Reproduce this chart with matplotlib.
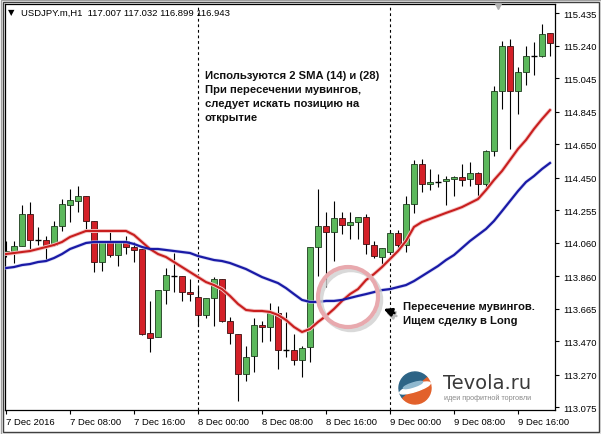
import numpy as np
import matplotlib.pyplot as plt
from matplotlib.patches import Circle, Wedge, Ellipse, Rectangle
from matplotlib.transforms import IdentityTransform

plt.rcParams['font.family'] = ['Liberation Sans', 'DejaVu Sans']

# USDJPY H1, 7-9 Dec 2016
opens = [113.992, 114.010, 114.040, 114.232, 114.076, 114.076, 114.046, 114.160, 114.285, 114.309,
         114.339, 114.190, 113.944, 114.064, 113.986, 114.070, 114.034, 114.022, 113.519, 113.495,
         113.776, 113.860, 113.860, 113.764, 113.735, 113.627, 113.729, 113.842, 113.591, 113.513,
         113.273, 113.381, 113.567, 113.555, 113.639, 113.417, 113.417, 113.357, 113.435, 114.034,
         114.160, 114.124, 114.208, 114.166, 114.184, 114.214, 114.046, 113.974, 114.004, 114.118,
         114.046, 114.291, 114.531, 114.411, 114.423, 114.429, 114.441, 114.453, 114.441, 114.477,
         114.411, 114.609, 114.968, 115.238, 114.968, 115.082, 115.178, 115.178, 115.315]
closes = [114.010, 114.040, 114.232, 114.076, 114.076, 114.040, 114.160, 114.291, 114.315, 114.339,
          114.190, 113.944, 114.064, 113.986, 114.064, 114.034, 114.016, 113.513, 113.489, 113.776,
          113.866, 113.860, 113.764, 113.752, 113.627, 113.729, 113.842, 113.591, 113.519, 113.273,
          113.375, 113.567, 113.555, 113.639, 113.417, 113.417, 113.357, 113.429, 114.034, 114.160,
          114.124, 114.208, 114.166, 114.184, 114.214, 114.052, 113.980, 114.028, 114.118, 114.046,
          114.291, 114.531, 114.411, 114.423, 114.423, 114.441, 114.453, 114.435, 114.477, 114.411,
          114.609, 114.968, 115.238, 114.968, 115.082, 115.178, 115.178, 115.309, 115.256]
highs = [114.070, 114.070, 114.285, 114.303, 114.154, 114.100, 114.190, 114.321, 114.381, 114.399,
         114.339, 114.190, 114.064, 114.136, 114.064, 114.100, 114.064, 114.022, 113.711, 113.776,
         113.908, 113.998, 113.860, 113.842, 113.794, 113.729, 113.854, 113.842, 113.615, 113.513,
         113.441, 113.609, 113.591, 113.699, 113.681, 113.645, 113.513, 113.441, 114.034, 114.381,
         114.244, 114.309, 114.244, 114.244, 114.214, 114.232, 114.070, 114.028, 114.130, 114.136,
         114.339, 114.555, 114.561, 114.501, 114.471, 114.459, 114.459, 114.531, 114.543, 114.483,
         114.615, 114.998, 115.268, 115.280, 115.112, 115.238, 115.262, 115.369, 115.315]
lows = [113.974, 113.938, 114.040, 114.010, 114.046, 113.950, 114.040, 114.130, 114.184, 114.244,
        114.124, 113.884, 113.890, 113.974, 113.920, 113.992, 113.944, 113.507, 113.405, 113.495,
        113.693, 113.764, 113.711, 113.711, 113.561, 113.609, 113.561, 113.585, 113.453, 113.112,
        113.232, 113.285, 113.465, 113.471, 113.303, 113.375, 113.327, 113.255, 113.345, 113.860,
        113.794, 113.950, 114.112, 114.082, 114.082, 113.992, 113.968, 113.920, 114.004, 114.022,
        114.004, 114.238, 114.363, 114.375, 114.393, 114.285, 114.339, 114.399, 114.399, 114.327,
        114.393, 114.579, 114.860, 114.621, 114.830, 115.004, 115.064, 115.172, 115.178]

sma14 = [113.992, 113.998, 114.004, 114.010, 114.022, 114.034, 114.046, 114.064, 114.094, 114.112,
         114.130, 114.130, 114.130, 114.130, 114.130, 114.130, 114.106, 114.064, 114.022, 113.992,
         113.974, 113.944, 113.914, 113.884, 113.854, 113.824, 113.806, 113.782, 113.741, 113.693,
         113.657, 113.651, 113.651, 113.645, 113.627, 113.597, 113.555, 113.525, 113.543, 113.585,
         113.621, 113.663, 113.711, 113.752, 113.782, 113.836, 113.872, 113.914, 113.962, 114.010,
         114.070, 114.154, 114.184, 114.202, 114.220, 114.238, 114.255, 114.273, 114.297, 114.321,
         114.375, 114.435, 114.489, 114.555, 114.621, 114.675, 114.741, 114.800, 114.854]
sma28 = [113.908, 113.914, 113.926, 113.932, 113.944, 113.950, 113.968, 113.992, 114.022, 114.040,
         114.058, 114.064, 114.064, 114.064, 114.064, 114.064, 114.052, 114.034, 114.022, 114.022,
         114.016, 114.010, 114.004, 113.998, 113.980, 113.968, 113.956, 113.950, 113.938, 113.920,
         113.902, 113.878, 113.854, 113.836, 113.818, 113.788, 113.752, 113.717, 113.705, 113.705,
         113.711, 113.711, 113.717, 113.729, 113.741, 113.752, 113.764, 113.776, 113.782, 113.794,
         113.806, 113.830, 113.860, 113.890, 113.920, 113.956, 113.986, 114.028, 114.070, 114.106,
         114.142, 114.190, 114.249, 114.309, 114.369, 114.423, 114.459, 114.501, 114.537]

xtick_pos = [0, 8, 16, 24, 32, 40, 48, 56, 64]
xtick_labels = ['7 Dec 2016', '7 Dec 08:00', '7 Dec 16:00', '8 Dec 00:00', '8 Dec 08:00',
                '8 Dec 16:00', '9 Dec 00:00', '9 Dec 08:00', '9 Dec 16:00']
day_starts = [24, 48]
yticks = [115.435, 115.240, 115.045, 114.845, 114.650, 114.450, 114.255, 114.060,
          113.860, 113.665, 113.470, 113.270, 113.075]

W, H = 601, 435
fig = plt.figure(figsize=(W / 100, H / 100), dpi=100)
ax = fig.add_axes([5 / W, 24 / H, 550 / W, 406 / H])

o = np.array(opens); c = np.array(closes)
hi = np.array(highs); lo = np.array(lows)
idx = np.arange(len(o))
up = c > o
dn = c < o
doji = c == o
bot = np.minimum(o, c)
hgt = np.abs(c - o)

green = '#5cb85c'
red = '#d42028'
ax.vlines(idx, lo, hi, color='black', lw=0.8, zorder=2)
ax.bar(idx[up], hgt[up], bottom=bot[up], width=0.64, color=green,
       edgecolor='#1d3b1d', lw=0.6, zorder=3)
ax.bar(idx[dn], hgt[dn], bottom=bot[dn], width=0.64, color=red,
       edgecolor='#3b1010', lw=0.6, zorder=3)
ax.hlines(o[doji], idx[doji] - 0.32, idx[doji] + 0.32, color='black', lw=1.0, zorder=3)

# moving averages
ax.plot(idx, sma14, color='#f4c4c4', lw=2.8, zorder=4, solid_capstyle='round')
ax.plot(idx, sma14, color='#c81e1e', lw=1.5, zorder=5)
ax.plot(idx, sma28, color='#c8ccf0', lw=2.6, zorder=4, solid_capstyle='round', alpha=0.7)
ax.plot(idx, sma28, color='#1a1aa6', lw=1.6, zorder=5)

for d in day_starts:
    ax.axvline(d, color='black', lw=0.8, ls=(0, (2.5, 2.5)), zorder=1)

ax.set_xlim(-0.125, 68.625)
ax.set_ylim(113.058, 115.489)
ax.yaxis.tick_right()
ax.set_yticks(yticks)
ax.set_yticklabels(['%.3f' % v for v in yticks])
ax.set_xticks(xtick_pos)
ax.set_xticklabels(xtick_labels)
for lab in ax.get_xticklabels():
    lab.set_ha('left')
ax.tick_params(axis='both', direction='out', length=3, width=0.8, labelsize=6.8,
               colors='black', pad=2)
ax.tick_params(axis='y', pad=3)
for s in ax.spines.values():
    s.set_color('black')
    s.set_linewidth(0.9)


def fx(x):
    return x / W


def fy(y):
    return 1 - y / H


# header
fig.text(fx(8), fy(13), '\u25bc', fontsize=6, va='center', ha='left',
         family=['DejaVu Sans'])
fig.text(fx(21), fy(13), 'USDJPY.m,H1  117.007 117.032 116.899 116.943',
         fontsize=6.8, va='center', ha='left')
fig.add_artist(plt.Line2D([fx(498)], [fy(7)], marker='v', ms=5, color='#b0b0b0'))

# annotation texts
lines1 = ['Используются 2 SMA (14) и (28)', 'При пересечении мувингов,',
          'следует искать позицию на', 'открытие']
for k, t in enumerate(lines1):
    fig.text(fx(205), fy(76 + 14 * k), t, fontsize=8.1, fontweight='bold',
             va='center', ha='left', color='#111111')
lines2 = ['Пересечение мувингов.', 'Ищем сделку в Long']
for k, t in enumerate(lines2):
    fig.text(fx(403), fy(307 + 14 * k), t, fontsize=8.1, fontweight='bold',
             va='center', ha='left', color='#111111')

# arrow to the crossing
ax.annotate('', xy=(fx(383), fy(312)), xytext=(fx(399), fy(318)),
            xycoords='figure fraction', textcoords='figure fraction',
            arrowprops=dict(arrowstyle='-|>', color='#bbbbbb', lw=1.8, mutation_scale=12),
            zorder=6)
ax.annotate('', xy=(fx(381), fy(309)), xytext=(fx(397), fy(315)),
            xycoords='figure fraction', textcoords='figure fraction',
            arrowprops=dict(arrowstyle='-|>', color='black', lw=1.8, mutation_scale=12),
            zorder=7)

# highlight circle
idt = IdentityTransform()
fig.add_artist(Circle((351, H - 301), 30, transform=idt, fill=False,
                      edgecolor='#d0d0d0', lw=3.2, alpha=0.8))
fig.add_artist(Circle((348, H - 298), 30, transform=idt, fill=False,
                      edgecolor='#e8a9ae', lw=3.0))

# logo
cx, cy, r = 415, H - 389, 16
fig.add_artist(Wedge((cx, cy), r, 40, 220, transform=idt, color='#2d6486'))
fig.add_artist(Wedge((cx, cy), r, 220, 400, transform=idt, color='#e2612b'))
fig.add_artist(Ellipse((cx, cy), 2 * r, 7, angle=18, transform=idt, color='white'))
fig.add_artist(Ellipse((cx - 2, cy + 3), 20, 4, angle=18, transform=idt, color='#8fb8cf'))
fig.text(fx(443), fy(384), 'Tevola.ru', fontsize=14, va='center', ha='left',
         color='#3a3a3a', family=['DejaVu Sans'])
fig.text(fx(444), fy(398), 'идеи профитной торговли', fontsize=5.2, va='center',
         ha='left', color='#8a8a8a')

# window frame
fig.add_artist(Rectangle((0.5, 0.5), W - 1, H - 1, transform=idt, fill=False,
                         edgecolor='#a0a0a0', lw=1))
fig.add_artist(Rectangle((2.5, 2.5), W - 5, H - 5, transform=idt, fill=False,
                         edgecolor='#404040', lw=1))

fig.savefig('out.png', dpi=100)
